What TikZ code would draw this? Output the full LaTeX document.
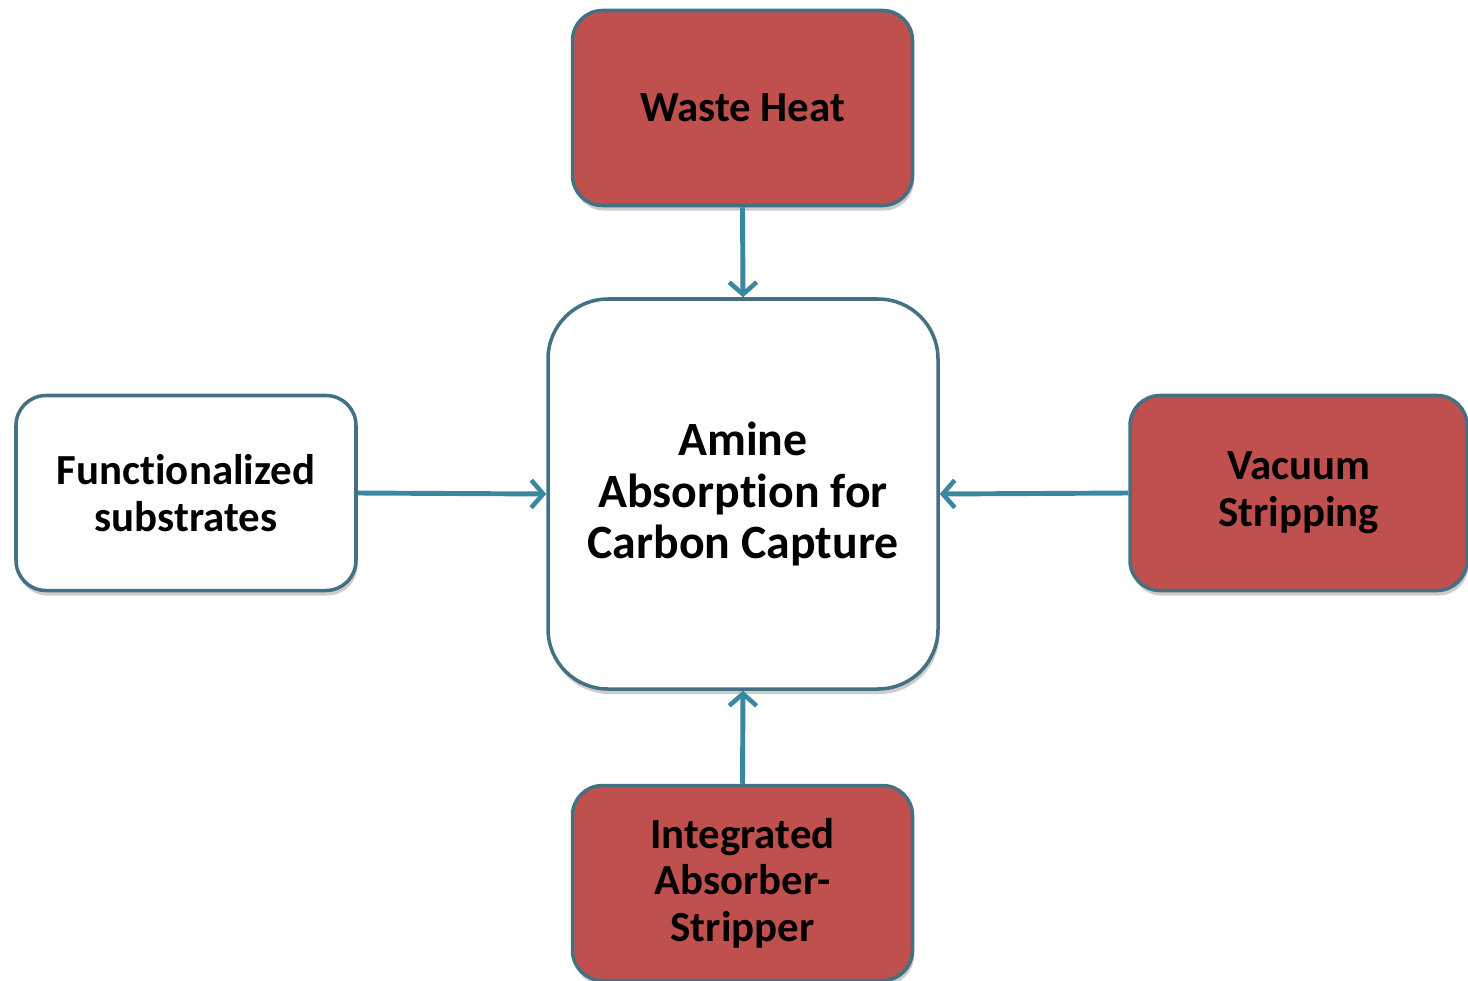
\documentclass[tikz,border=0pt]{standalone}
\usepackage{fontspec}
\setmainfont{Carlito}[Ligatures=NoCommon]
\usepackage{tikz}
\usetikzlibrary{arrows.meta, positioning, shadows}
\definecolor{boxred}{RGB}{192,80,77}
\definecolor{boxedge}{RGB}{68,112,132}
\definecolor{arrowteal}{RGB}{58,135,160}
\tikzset{
  redbox/.style={rectangle, draw=boxedge, fill=boxred, line width=2pt,
    minimum width=6.8cm, minimum height=3.9cm, rounded corners=0.6cm,
    align=center, font=\fontsize{24.4}{26.5}\selectfont\bfseries,
    drop shadow={shadow xshift=0.03cm, shadow yshift=-0.1cm, opacity=0.4}},
  whitebox/.style={redbox, fill=white},
  bigbox/.style={whitebox, minimum width=7.8cm, minimum height=7.8cm,
    rounded corners=1.2cm, font=\fontsize{27.2}{29.5}\selectfont\bfseries},
  arrow/.style={-{Straight Barb[length=0.24cm, width=0.55cm, line width=2.6pt]},
    line width=2.8pt, color=arrowteal}
}
\begin{document}
\begin{tikzpicture}
  \useasboundingbox (0,0) rectangle (29.36,-19.6);

  % Central block
  \node[bigbox] (amine) at (14.86, -9.88) {Amine\\Absorption for\\Carbon Capture};

  % Surrounding blocks
  \node[redbox] (waste) at (14.85, -2.16) {Waste Heat};
  \node[whitebox] (func) at (3.72, -9.86) {Functionalized\\substrates};
  \node[redbox, minimum width=6.74cm] (vacuum) at (25.97, -9.86) {Vacuum\\Stripping};
  \node[redbox] (integ) at (14.85, -17.66) {Integrated\\Absorber-\\Stripper};

  % Connections into the central block
  \draw[arrow] (waste.south) -- (amine.north);
  \draw[arrow] (func.east) -- (amine.west);
  \draw[arrow] (vacuum.west) -- (amine.east);
  \draw[arrow] (integ.north) -- (amine.south);
\end{tikzpicture}
\end{document}
